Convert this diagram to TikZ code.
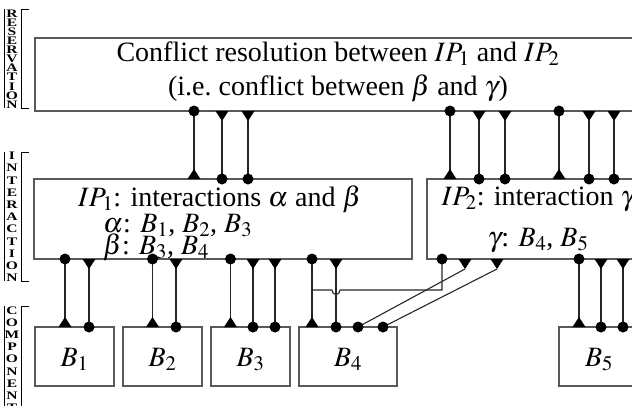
\documentclass[tikz,border=0pt]{standalone}
\usepackage{mathptmx}
\usepackage{fontspec}
\setmainfont{Liberation Serif}
\newcommand\cDT[3]{%
  \path (#3,0) coordinate (xx);
  \draw[conn] (#1.south -| xx) -- (#2.north -| xx);
  \fill (#1.south -| xx) circle (5.5pt);
  \fill (#2.north -| xx) +(-6.5,0) -- +(6.5,0) -- +(0,-10) -- cycle;
}
\newcommand\cTD[3]{%
  \path (#3,0) coordinate (xx);
  \draw[conn] (#1.south -| xx) -- (#2.north -| xx);
  \fill (#1.south -| xx) +(-6.5,0) -- +(6.5,0) -- +(0,10) -- cycle;
  \fill (#2.north -| xx) circle (5.5pt);
}
\begin{document}
\begin{tikzpicture}[x=1pt,y=-1pt,
  box/.style={draw=black!65, line width=1.3pt, outer sep=0pt, inner sep=0pt, anchor=north west},
  conn/.style={draw=black!85, line width=1.1pt},
  txt/.style={font=\fontsize{28}{34}\selectfont, inner sep=0pt, anchor=base},
  lbl/.style={font=\bfseries\fontsize{11.5}{#1}\selectfont, align=center, inner sep=0pt, xscale=1.35, transform shape},
  brk/.style={draw=black, line width=1pt}
]
\clip (0,0) rectangle (632,405);
% layer labels
\node[lbl=9.1] (lres) at (12,59) {R\\E\\S\\E\\R\\V\\A\\T\\I\\O\\N};
\draw[brk] (4,9) -- (4,108);
\draw[brk] (29,9) -- (21,9) -- (21,108) -- (29,108);
\node[lbl=12.2] (lint) at (12,217) {I\\N\\T\\E\\R\\A\\C\\T\\I\\O\\N};
\draw[brk] (4,152) -- (4,281);
\draw[brk] (29,152) -- (21,152) -- (21,281) -- (29,281);
\node[lbl=12.2] (lcom) at (12,359) {C\\O\\M\\P\\O\\N\\E\\N\\T};
\draw[brk] (4,306) -- (4,412);
\draw[brk] (29,306) -- (21,306) -- (21,412);
% boxes
\node[box, minimum width=608pt, minimum height=73pt] (res) at (35,38) {};
\node[box, minimum width=378pt, minimum height=80pt] (ip1) at (34,179) {};
\node[box, minimum width=220pt, minimum height=80pt] (ip2) at (427,179) {};
\node[box, minimum width=79pt, minimum height=59pt] (b1) at (35,327) {};
\node[box, minimum width=79pt, minimum height=59pt] (b2) at (123,327) {};
\node[box, minimum width=79pt, minimum height=59pt] (b3) at (211,327) {};
\node[box, minimum width=98pt, minimum height=59pt] (b4) at (299,327) {};
\node[box, minimum width=80pt, minimum height=59pt] (b5) at (559,327) {};
% texts
\node[txt] (t1) at (338,61) {Conflict resolution between $IP_1$ and $IP_2$};
\node[txt] (t2) at (338,95) {(i.e.\ conflict between $\beta$ and $\gamma$)};
\node[txt, anchor=base west] (i1) at (78,206) {$IP_1$: interactions $\alpha$ and $\beta$};
\node[txt, anchor=base west] (i2) at (103,232) {$\alpha$: $B_1$, $B_2$, $B_3$};
\node[txt, anchor=base west] (i3) at (103,254) {$\beta$: $B_3$, $B_4$};
\node[txt] (j1) at (538,205) {$IP_2$: interaction $\gamma$};
\node[txt] (j2) at (538,246) {$\gamma$: $B_4$, $B_5$};
\node[txt] (l1) at (74.5,366) {$B_1$};
\node[txt] (l2) at (162.5,366) {$B_2$};
\node[txt] (l3) at (250.5,366) {$B_3$};
\node[txt] (l4) at (348,366) {$B_4$};
\node[txt] (l5) at (599,366) {$B_5$};
% connectors reservation - interaction
\cDT{res}{ip1}{194}
\cTD{res}{ip1}{222}
\cTD{res}{ip1}{248}
\cDT{res}{ip2}{450}
\cTD{res}{ip2}{479}
\cTD{res}{ip2}{505}
\cDT{res}{ip2}{559}
\cTD{res}{ip2}{589}
\cTD{res}{ip2}{614}
% connectors interaction - component
\cDT{ip1}{b1}{65}
\cTD{ip1}{b1}{89}
\cDT{ip1}{b2}{152.5}
\cTD{ip1}{b2}{176}
\cDT{ip1}{b3}{230.5}
\cTD{ip1}{b3}{253}
\cTD{ip1}{b3}{275}
\cDT{ip1}{b4}{312}
\cDT{ip2}{b5}{579}
\cTD{ip2}{b5}{601}
\cTD{ip2}{b5}{623}
% IP2 -> join on the IP1/B4 connector, jumping under the 336 line
\coordinate (join) at (312,290);
\coordinate (dipR) at (340,290);
\coordinate (dipL) at (332,290);
\path (442,0) coordinate (xa);
\draw[conn] (ip2.south -| xa) -- (join -| xa) -- (dipR) .. controls ++(0,6) and ++(0,6) .. (dipL) -- (join);
\fill (ip2.south -| xa) circle (5.5pt);
\cTD{ip1}{b4}{336}
% diagonals IP2 -> B4
\path (465,0) coordinate (xd) (358,0) coordinate (xe) (497,0) coordinate (xf) (383,0) coordinate (xg);
\draw[conn] (ip2.south -| xd) ++(0,10) -- (b4.north -| xe);
\fill (ip2.south -| xd) +(-6.5,0) -- +(6.5,0) -- +(0,10) -- cycle;
\fill (b4.north -| xe) circle (5.5pt);
\draw[conn] (ip2.south -| xf) ++(0,10) -- (b4.north -| xg);
\fill (ip2.south -| xf) +(-6.5,0) -- +(6.5,0) -- +(0,10) -- cycle;
\fill (b4.north -| xg) circle (5.5pt);
\end{tikzpicture}
\end{document}
